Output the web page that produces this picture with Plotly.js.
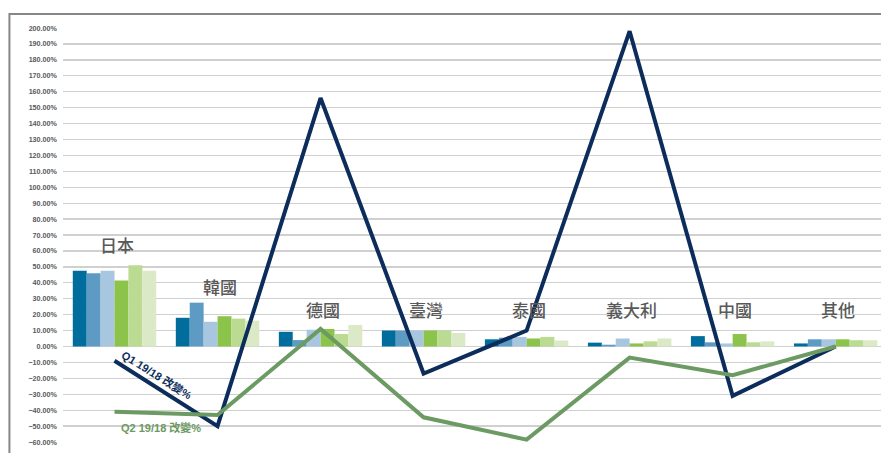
<!DOCTYPE html>
<html>
<head>
<meta charset="utf-8">
<script src="https://cdn.plot.ly/plotly-3.0.1.min.js"></script>
<style>
  html, body { margin: 0; padding: 0; background: #ffffff; }
  #chart { width: 881px; height: 453px; }
</style>
</head>
<body>
<div id="chart"></div>
<script>
// Categories (countries)
const categories = ['日本', '韓國', '德國', '臺灣', '泰國', '義大利', '中國', '其他'];

// Bar series (six series per country)
const series1 = [0.475, 0.180, 0.092, 0.100, 0.045, 0.024, 0.065, 0.019];
const series2 = [0.460, 0.275, 0.040, 0.100, 0.055, 0.011, 0.026, 0.045];
const series3 = [0.475, 0.155, 0.105, 0.100, 0.060, 0.050, 0.019, 0.045];
const series4 = [0.415, 0.190, 0.110, 0.100, 0.050, 0.019, 0.078, 0.045];
const series5 = [0.510, 0.175, 0.078, 0.100, 0.060, 0.032, 0.026, 0.039];
const series6 = [0.475, 0.162, 0.135, 0.085, 0.037, 0.050, 0.032, 0.039];

// Line series: year-over-year change
const q1Change = [-0.09, -0.50, 1.56, -0.17, 0.10, 1.98, -0.31, 0.00];
const q2Change = [-0.41, -0.43, 0.11, -0.445, -0.585, -0.07, -0.18, 0.00];

const seriesNames = ['系列1', '系列2', '系列3', '系列4', '系列5', '系列6'];
const lineNames = ['Q1 19/18 改變%', 'Q2 19/18 改變%'];

// Label heights for the country labels (data units)
const labelY = [0.64, 0.376, 0.232, 0.232, 0.232, 0.232, 0.232, 0.232];

const barColors = ['#016d9c', '#5e9bc4', '#a8c6e0', '#8bc34b', '#badb91', '#dbe9c6'];
const barData = [series1, series2, series3, series4, series5, series6];

const traces = barData.map((vals, i) => ({
  type: 'bar',
  x: categories,
  y: vals,
  name: seriesNames[i],
  marker: { color: barColors[i], line: { width: 0 } },
  hoverinfo: 'skip'
}));

traces.push({
  type: 'scatter', mode: 'lines', x: categories, y: q1Change, name: lineNames[0],
  line: { color: '#0c2d5b', width: 4 }, hoverinfo: 'skip'
});
traces.push({
  type: 'scatter', mode: 'lines', x: categories, y: q2Change, name: lineNames[1],
  line: { color: '#6b9a62', width: 4 }, hoverinfo: 'skip'
});

const cjk = '"Noto Sans CJK TC", "Noto Sans CJK SC", sans-serif';

const annotations = categories.map((c, i) => ({
  x: c, y: labelY[i], xref: 'x', yref: 'y',
  text: c, showarrow: false, xshift: 2,
  font: { family: cjk, size: 17, color: '#595959', weight: 500 }
}));

annotations.push({
  x: 0.41, y: -0.175, xref: 'x', yref: 'y', text: '<b>' + lineNames[0] + '</b>',
  showarrow: false, textangle: 32,
  font: { family: 'Liberation Sans, ' + cjk, size: 11, color: '#0c2d5b' }
});
annotations.push({
  x: 0.45, y: -0.51, xref: 'x', yref: 'y', text: '<b>' + lineNames[1] + '</b>',
  showarrow: false,
  font: { family: 'Liberation Sans, ' + cjk, size: 11, color: '#6b9a62' }
});

const layout = {
  width: 881, height: 453,
  margin: { l: 63, r: 0, t: 28, b: 11, pad: 0 },
  paper_bgcolor: '#ffffff', plot_bgcolor: '#ffffff',
  showlegend: false,
  barmode: 'group', bargap: 0.19, bargroupgap: 0,
  xaxis: {
    type: 'category', range: [-0.5, 7.44],
    showticklabels: false, showgrid: false, zeroline: false, showline: false, ticks: ''
  },
  yaxis: {
    range: [-0.6, 2.0], dtick: 0.1, tick0: 0, tickformat: '.2%',
    showgrid: true, gridcolor: '#d0d0d0', gridwidth: 1.3,
    zeroline: true, zerolinecolor: '#d0d0d0', zerolinewidth: 1.3,
    showline: false, ticks: '', ticklabelstandoff: 5,
    tickfont: { family: 'Liberation Sans, Arial, sans-serif', size: 7.2, color: '#595959', weight: 'bold' }
  },
  annotations: annotations,
  shapes: [{
    type: 'rect', xref: 'paper', yref: 'paper',
    x0: -0.0655, x1: 1.2, y0: -0.2, y1: 1.0338,
    line: { color: '#878787', width: 2 }, fillcolor: 'rgba(0,0,0,0)', layer: 'above'
  }]
};

Plotly.newPlot('chart', traces, layout, { displayModeBar: false, staticPlot: true });
</script>
</body>
</html>
